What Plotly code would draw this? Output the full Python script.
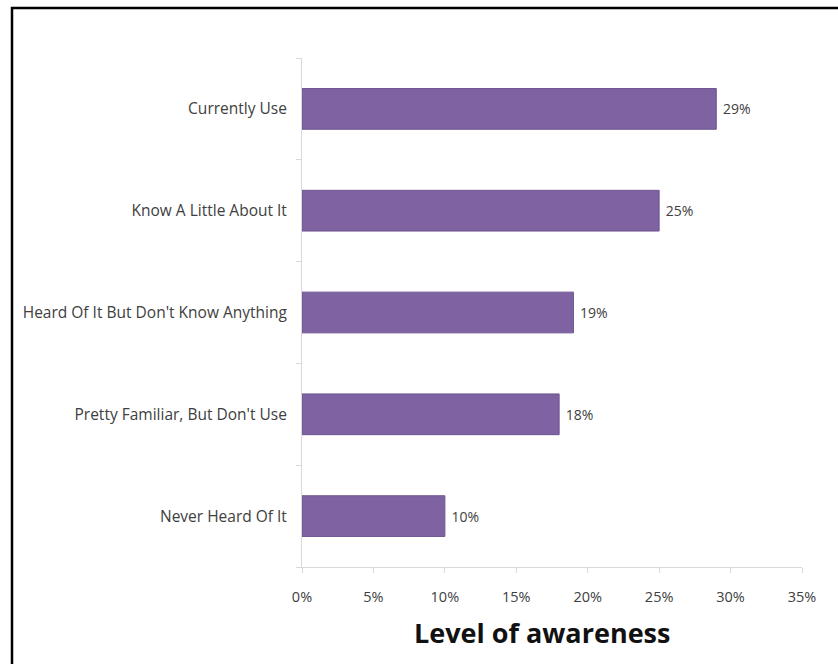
import plotly.graph_objects as go

categories = ["Never Heard Of It", "Pretty Familiar, But Don't Use",
              "Heard Of It But Don't Know Anything", "Know A Little About It",
              "Currently Use"]
values = [0.10, 0.18, 0.19, 0.25, 0.29]
labels = ["10%", "18%", "19%", "25%", "29%"]
x_ticks = [0, 0.05, 0.10, 0.15, 0.20, 0.25, 0.30, 0.35]
x_title = "Level of awareness"

FONT = "'Open Sans', sans-serif"
TXT = "#404040"

fig = go.Figure(go.Bar(
    y=categories, x=values, orientation="h",
    marker=dict(color="#7E62A1", line=dict(color="#6f5591", width=1)),
    width=0.4,
    text=labels, texttemplate=" %{text}", textposition="outside", cliponaxis=False,
    textfont=dict(family=FONT, size=14, color=TXT),
))

W, H = 838, 664
ml, mr, mt, mb = 302, 36, 58, 97
pw, ph = W - ml - mr, H - mt - mb

fig.update_layout(
    width=W, height=H,
    margin=dict(l=ml, r=mr, t=mt, b=mb),
    paper_bgcolor="white", plot_bgcolor="white",
    showlegend=False,
    font=dict(family=FONT, color=TXT, size=14),
    xaxis=dict(
        range=[0, 0.35], tickvals=x_ticks, tickformat=".0%",
        showgrid=False, zeroline=False,
        showline=True, linecolor="#d9d9d9", linewidth=1,
        ticks="outside", ticklen=5, tickcolor="#d9d9d9",
        tickfont=dict(family=FONT, size=14.5, color=TXT),
        ticklabelstandoff=12,
    ),
    yaxis=dict(
        showgrid=False, zeroline=False,
        showline=True, linecolor="#d9d9d9", linewidth=1,
        ticks="outside", ticklen=5, tickcolor="#d9d9d9",
        tickson="boundaries",
        tickfont=dict(family=FONT, size=15.5, color=TXT),
        ticklabelstandoff=11,
    ),
    annotations=[dict(
        text="<b>" + x_title + "</b>", xref="paper", yref="paper",
        x=(542 - ml) / pw, y=-(632 - (H - mb)) / ph,
        xanchor="center", yanchor="middle", showarrow=False,
        font=dict(family=FONT, size=27, color="#111111"),
    )],
    shapes=[dict(
        type="rect", xref="paper", yref="paper",
        x0=(12 - ml) / pw, x1=(W + 20 - ml) / pw,
        y0=-(mb + 20) / ph, y1=(H - mb - 8) / ph,
        line=dict(color="black", width=2.5), fillcolor="rgba(0,0,0,0)",
        layer="above",
    )],
)

fig.write_html("out.html")
